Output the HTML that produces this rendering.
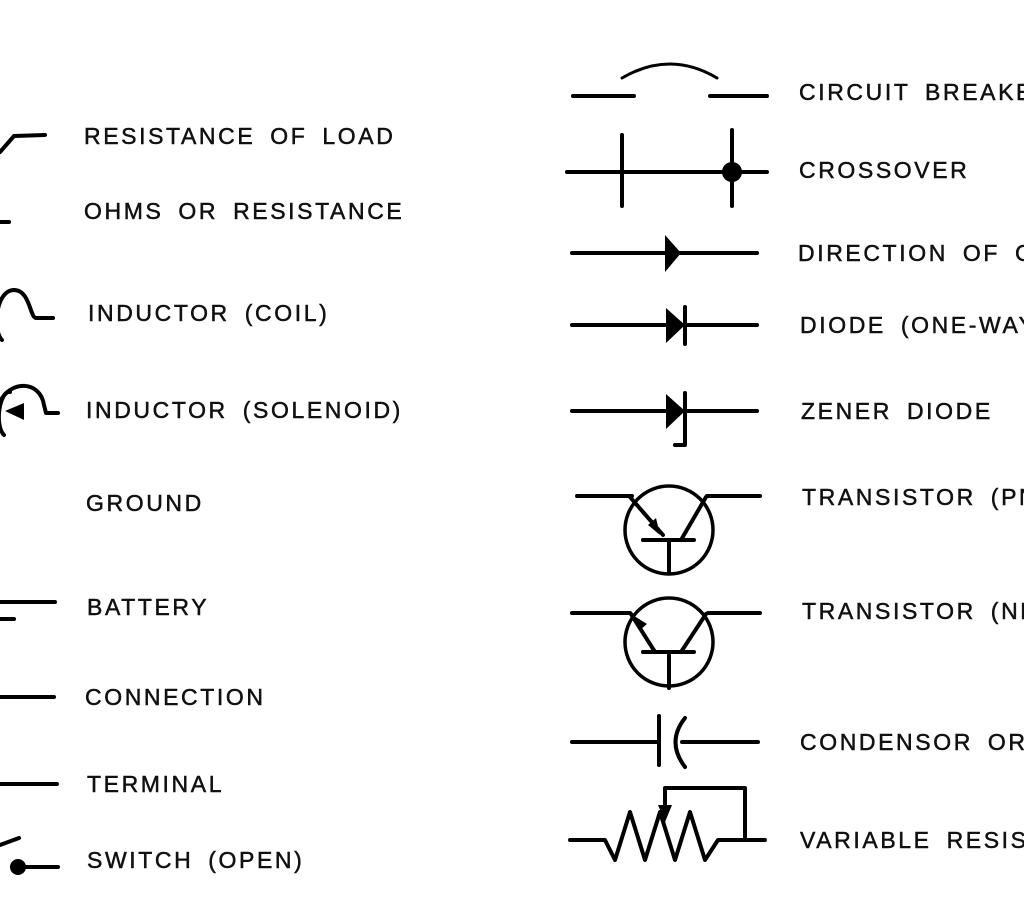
<!DOCTYPE html>
<html><head><meta charset="utf-8"><style>
html,body{margin:0;padding:0;background:#fff;}
svg{display:block}
text{font-family:"Liberation Sans",Arial,sans-serif;font-size:23px;letter-spacing:2.6px;word-spacing:6px;fill:#111;stroke:#111;stroke-width:0.5px;}
</style></head><body>
<svg width="1024" height="923" viewBox="0 0 1024 923" xmlns="http://www.w3.org/2000/svg">
<g fill="none" stroke="#000" stroke-width="4" stroke-linecap="round" stroke-linejoin="round">
<path d="M0 152 L14 136 L45 135"/>
<path d="M0 222 L9 222"/>
<path d="M2 340 C-8 330 -4 290 14 290 C30 290 30 318 36 318 L53 318"/>
<path d="M4 435 C-6 425 0 390 10 392 M0 402 C10 380 40 380 44 405 L46 413 L58 413"/>
<path d="M0 602 L55 602 M0 619 L14 619"/>
<path d="M0 697 L54 697"/>
<path d="M0 784 L57 784"/>
<path d="M0 845 L19 838 M18 867 L58 867"/>
<path d="M573 96 L634 96 M710 96 L767 96"/>
<path d="M622 78 Q670 50 717 78" stroke-width="3"/>
<path d="M567 172 L767 172 M622 135 L622 206 M732 130 L732 206"/>
<path d="M572 253 L757 253"/>
<path d="M572 325 L757 325 M685 307 L685 344"/>
<path d="M572 411 L757 411 M685 393 L685 445 L675 445"/>
<path d="M577 496 L632 496 M707 496 L760 496 M643 540 L694 540 M669 540 L669 573 M630 497 L663 535 M706 497 L681 540"/>
<circle cx="669" cy="530" r="44" stroke-width="3.5"/>
<path d="M572 613 L630 613 M708 613 L760 613 M643 652 L694 652 M669 652 L669 688 M631 614 L655 652 M706 614 L681 652"/>
<circle cx="669" cy="642" r="44" stroke-width="3.5"/>
<path d="M572 742 L657 742 M659 716 L659 765 M685 718 Q666 742 685 767 M682 742 L758 742"/>
<path d="M570 840 L605 840 L615 860 L630 812 L645 860 L660 812 L675 860 L690 812 L705 860 L718 840 L765 840 M745 840 L745 788 L665 788 L665 815"/>
</g>
<g fill="#000">
<path d="M5 411 L24 403 L24 420Z"/>
<circle cx="18" cy="867" r="8"/>
<circle cx="732" cy="172" r="10"/>
<path d="M665 235 L681 253 L665 272Z"/>
<path d="M666 308 L685 325 L666 343Z"/>
<path d="M666 394 L685 411 L666 429Z"/>
<path d="M660 535 L648 525 L656 518Z"/>
<path d="M631 614 L640 630 L647 624Z"/>
<path d="M658 805 L672 805 L665 822Z"/>
</g>
<text x="84" y="144">RESISTANCE OF LOAD</text>
<text x="84" y="219">OHMS OR RESISTANCE</text>
<text x="88" y="321">INDUCTOR (COIL)</text>
<text x="86" y="418">INDUCTOR (SOLENOID)</text>
<text x="86" y="511">GROUND</text>
<text x="87" y="615">BATTERY</text>
<text x="85" y="705">CONNECTION</text>
<text x="87" y="792">TERMINAL</text>
<text x="87" y="868">SWITCH (OPEN)</text>
<text x="799" y="100">CIRCUIT BREAKER</text>
<text x="799" y="178">CROSSOVER</text>
<text x="798" y="261">DIRECTION OF CURRENT</text>
<text x="800" y="333">DIODE (ONE-WAY)</text>
<text x="801" y="419">ZENER DIODE</text>
<text x="802" y="505">TRANSISTOR (PNP)</text>
<text x="802" y="619">TRANSISTOR (NPN)</text>
<text x="800" y="750">CONDENSOR OR</text>
<text x="800" y="848">VARIABLE RESISTOR</text>
</svg>
</body></html>
